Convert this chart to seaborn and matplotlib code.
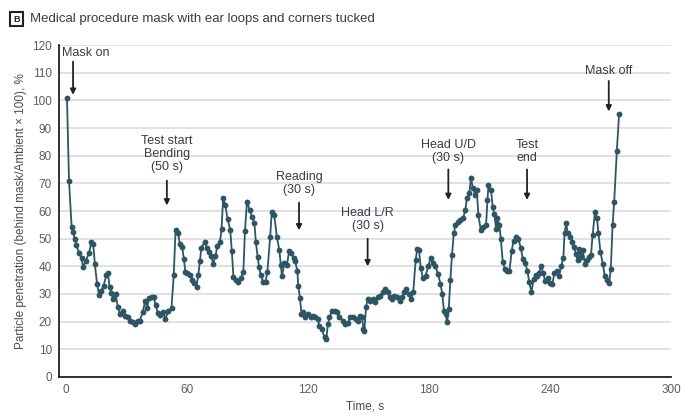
import numpy as np
import pandas as pd
import seaborn as sns
import matplotlib.pyplot as plt
from matplotlib.patches import Rectangle

time_s = [0.5, 1.5, 2.8, 3.5, 4.3, 5.1, 6.6, 7.7, 8.5, 9.8, 11.4, 12.6, 13.5, 14.3, 15.4,
          16.4, 17.5, 18.6, 20.0, 20.8, 21.6, 22.4, 23.3, 24.6, 25.7, 26.9, 28.2, 29.5, 30.6,
          31.8, 33.1, 34.4, 35.5, 36.6, 38.0, 39.3, 40.2, 41.2, 42.6, 43.6, 44.4, 45.6, 46.8,
          48.0, 49.3, 50.8, 52.3, 53.4, 54.3, 55.5, 56.5, 57.6, 58.4, 59.2, 60.1, 61.5, 62.6,
          63.4, 64.7, 65.6, 66.4, 67.1, 68.7, 69.7, 70.8, 72.0, 72.9, 74.1, 75.0, 76.3, 77.1,
          77.9, 79.0, 80.1, 81.4, 82.2, 83.0, 84.3, 85.5, 86.6, 87.9, 88.7, 89.7, 91.0, 92.2,
          93.4, 94.1, 95.0, 95.7, 96.6, 97.7, 98.9, 99.8, 101.2, 102.0, 103.2, 104.5, 105.7,
          106.5, 107.0, 108.3, 109.5, 110.6, 111.6, 112.8, 113.6, 114.7, 115.1, 116.0, 116.7,
          117.5, 118.7, 120.0, 121.3, 122.4, 123.6, 124.7, 125.6, 126.7, 128.2, 129.0, 129.8,
          130.6, 131.8, 133.1, 134.4, 135.5, 137.2, 138.3, 139.7, 140.9, 142.2, 143.5, 144.6,
          145.5, 146.8, 147.4, 147.9, 148.7, 149.5, 150.7, 152.0, 153.4, 154.5, 155.7, 157.0,
          158.3, 159.5, 160.6, 161.6, 162.8, 163.9, 165.3, 166.6, 167.7, 168.5, 169.8, 171.0,
          172.1, 173.3, 174.1, 175.0, 175.8, 176.9, 178.2, 179.5, 180.7, 181.8, 183.1, 184.4,
          185.6, 186.5, 187.3, 188.1, 188.9, 189.7, 190.5, 191.3, 192.2, 193.0, 194.2, 195.5,
          196.8, 197.9, 198.7, 199.9, 200.7, 201.7, 202.8, 203.6, 204.4, 205.6, 206.9, 208.2,
          208.9, 209.4, 210.6, 211.5, 212.2, 213.2, 213.8, 214.8, 215.5, 216.5, 217.6, 218.8,
          219.8, 220.9, 221.8, 223.1, 224.2, 225.4, 226.4, 227.5, 228.7, 229.6, 230.7, 231.8,
          232.8, 233.6, 234.5, 235.4, 236.6, 237.4, 238.7, 239.9, 241.0, 242.1, 243.2, 244.4,
          245.4, 246.5, 247.1, 247.9, 248.7, 250.0, 250.6, 251.6, 252.8, 253.6, 254.4, 255.2,
          256.1, 257.2, 258.2, 259.3, 260.2, 261.0, 262.2, 263.2, 263.9, 264.9, 266.0, 267.1,
          268.1, 269.2, 270.0, 270.9, 271.7, 273.0, 274.1]

penetration = [101, 71, 54.3, 52.5, 50, 47.6, 44.7, 42.9, 39.7, 42, 44.7, 48.8, 48, 41, 33.7,
               29.5, 31, 33, 36.7, 37.5, 32.5, 30.5, 28.2, 30, 25.2, 22.7, 24, 22.2, 21.6,
               20.4, 19.8, 19.2, 20.4, 20.4, 23.4, 27.6, 25, 28.5, 29, 28.8, 26, 23, 22.4,
               23.6, 21, 24, 25, 36.7, 53, 52, 48, 47, 42.8, 38, 37.6, 37, 35.2,
               34, 32.7, 37, 42, 46.8, 48.7, 46.8, 45, 43.6, 41, 43.6, 47.5, 48.7, 53.5,
               64.6, 62, 57, 53.3, 45.4, 36.2, 35, 34.3, 35.6, 38, 52.7, 63.4, 60.4, 58,
               55.6, 48.8, 43.4, 39.7, 36.7, 34.3, 34.3, 37.9, 50.7, 59.8, 58.5, 50.7, 46,
               40.6, 36.4, 41.2, 40.6, 45.4, 44.8, 43, 41.8, 38.2, 33, 28.4, 22.8,
               23.4, 21.6, 22.8, 21.6, 22.2, 21.6, 21, 18.5, 17.3, 14.3, 13.7, 19,
               21.6, 24, 24, 23.4, 21.6, 20.4, 19, 19.6, 21.6, 21.6, 21, 20.4,
               22.2, 21.6, 17.3, 16.7, 25.2, 28.2, 27.6, 28.2, 27, 28.8, 29.4, 30.6,
               31.8, 30.6, 28.8, 28.2, 29.4, 28.8, 27.6, 28.8, 30.6, 31.8, 30, 28.2,
               30.6, 42.2, 46.4, 45.8, 39.4, 35.8, 36.4, 40, 43, 41.2, 40, 37.2,
               33.6, 30, 24, 22.8, 19.8, 24.6, 35, 44, 51.9, 54.9, 56, 56.6,
               57.3, 60.3, 64.6, 66.4, 71.9, 68.2, 65.8, 67.6, 58.5, 53, 54.3, 54.9,
               64, 69.5, 67.6, 61.6, 59, 53.6, 57.3, 54.9, 50, 41.5, 39, 38.4,
               38.4, 45.6, 49.3, 50.5, 49.9, 46.8, 42.6, 41.3, 38.4, 34.2, 30.7, 35.5,
               36.7, 36.4, 37.6, 40, 37.6, 34.7, 35.8, 34.1, 33.5, 37.6, 38.2, 36.4,
               40, 43, 51.9, 55.5, 51.9, 50.7, 48.9, 47, 44.6, 42.2, 46.4, 43.4,
               45.8, 41, 42.2, 43.4, 44, 51.3, 59.8, 57.3, 51.9, 45.2, 41, 36.4,
               35.2, 34, 39, 54.9, 63.4, 81.6, 94.9]

event_labels = ["Mask on", "Test start\nBending\n(50 s)", "Reading\n(30 s)", "Head L/R\n(30 s)",
                "Head U/D\n(30 s)", "Test\nend", "Mask off"]
event_x = [3.5, 50, 115.5, 149.5, 189.5, 228.5, 269]
event_text_y = [117, 80.5, 70, 57, 81.5, 81.5, 110.5]
event_arrow_top = [114, 71, 63, 50, 75, 75, 107]
event_arrow_tip = [102, 62, 53, 40, 64, 64, 96]

df = pd.DataFrame({"time": time_s, "pen": penetration})

sns.set_style("white")
plt.rcParams['font.family'] = ['Liberation Sans Narrow', 'Liberation Sans', 'DejaVu Sans']

fig = plt.figure(figsize=(6.85, 4.17), dpi=100)
ax = fig.add_axes([0.086, 0.096, 0.894, 0.796])

line_col = "#2d5564"
sns.lineplot(data=df, x="time", y="pen", ax=ax, color=line_col, linewidth=1.3,
             marker="o", markersize=4.2, markeredgewidth=0, sort=False)

ax.set_xlim(-3.5, 300)
ax.set_ylim(0, 120)
ax.set_xticks(np.arange(0, 301, 60))
ax.set_yticks(np.arange(0, 121, 10))
ax.yaxis.grid(True, color="#dcdcdc", linewidth=1.2)
ax.set_axisbelow(True)
for s in ["top", "right"]:
    ax.spines[s].set_visible(False)
for s in ["left", "bottom"]:
    ax.spines[s].set_color("#222222")
    ax.spines[s].set_linewidth(1.3)
ax.tick_params(axis="both", direction="out", length=3, width=1, color="#222222",
               labelsize=8.5, labelcolor="#5f5a66", pad=2)

ax.set_xlabel("Time, s", fontsize=8.5, color="#4a4a5a", labelpad=3)
ax.set_ylabel("Particle penetration (behind mask/Ambient × 100), %", fontsize=8.5,
              color="#4a4a5a", labelpad=4)

for lab, x, ty, a0, a1 in zip(event_labels, event_x, event_text_y, event_arrow_top, event_arrow_tip):
    if lab == "Mask on":
        ax.text(-2, ty, lab, ha="left", va="center", fontsize=9, color="#3a3a4a")
    else:
        ax.text(x, ty, lab, ha="center", va="center", fontsize=9, color="#3a3a4a",
                linespacing=1.1)
    ax.annotate("", xy=(x, a1), xytext=(x, a0),
                arrowprops=dict(arrowstyle="-|>", color="#222222", lw=1.3,
                                mutation_scale=8, shrinkA=0, shrinkB=0))

fig.patches.append(Rectangle((10 / 685, 1 - 26 / 417), 13 / 685, 14 / 417,
                             transform=fig.transFigure, fill=False,
                             edgecolor="#222222", linewidth=1.5))
fig.text(16.5 / 685, 1 - 19 / 417, "B", ha="center", va="center", fontsize=6.5,
         fontweight="bold", color="#222222")
fig.text(30 / 685, 1 - 19 / 417, "Medical procedure mask with ear loops and corners tucked",
         ha="left", va="center", fontsize=9.5, color="#3a3a4a")

fig.savefig("out.png", dpi=100)
